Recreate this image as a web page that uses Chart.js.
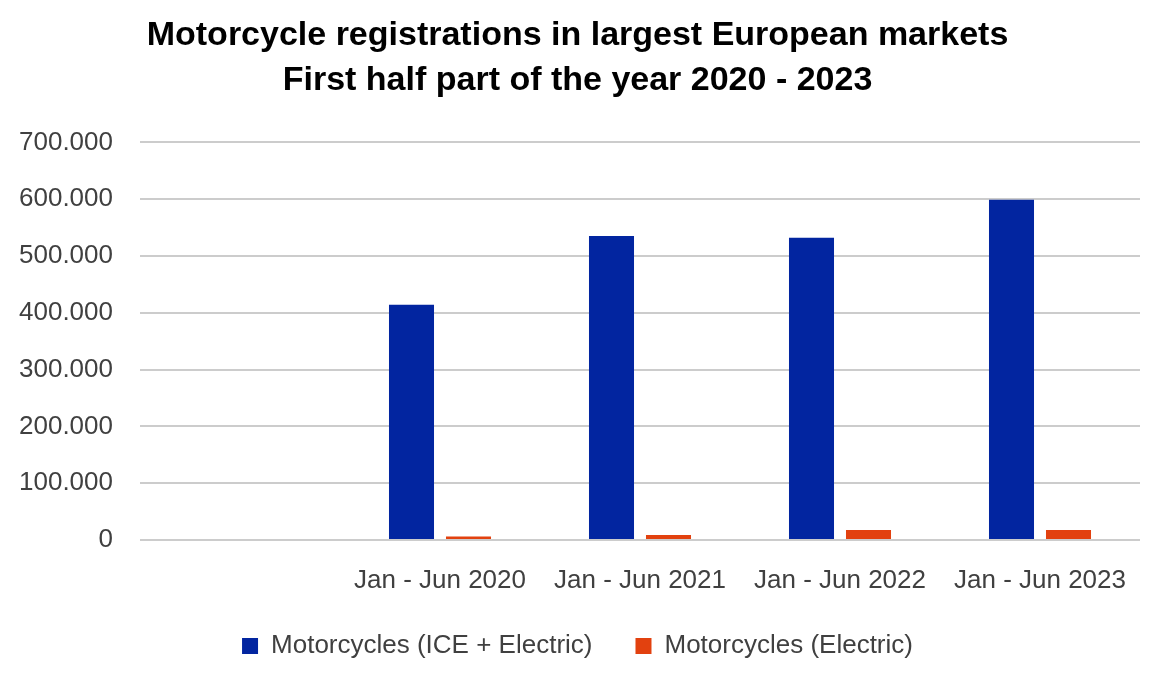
<!DOCTYPE html>
<html>
<head>
<meta charset="utf-8">
<script src="https://cdn.jsdelivr.net/npm/chart.js@4.4.0/dist/chart.umd.min.js"></script>
<style>
  html, body { margin: 0; padding: 0; background: #fff; }
  #wrap { width: 1156px; height: 675px; }
</style>
</head>
<body>
<div id="wrap"><canvas id="motoChart" width="1156" height="675"></canvas></div>
<script>
// categories (first slot is empty in the original chart)
const periods = ["", "Jan - Jun 2020", "Jan - Jun 2021", "Jan - Jun 2022", "Jan - Jun 2023"];

// series values
const totalRegs = [null, 414000, 535000, 532000, 599000];
const electricRegs = [null, 6000, 9000, 17500, 17500];

const seriesNames = ["Motorcycles (ICE + Electric)", "Motorcycles (Electric)"];
const titleLines = ["Motorcycle registrations in largest European markets", "First half part of the year 2020 - 2023"];

// y axis ticks
const yMax = 700000;
const yStep = 100000;

const FONT = "'Liberation Sans', Arial, sans-serif";

function fmtThousands(v) {
    return v.toString().replace(/\B(?=(\d{3})+(?!\d))/g, ".");
}

const ctx = document.getElementById("motoChart").getContext("2d");

new Chart(ctx, {
    type: "bar",
    data: {
        labels: periods,
        datasets: [
            {
                label: seriesNames[0],
                data: totalRegs,
                backgroundColor: "#0225a0",
                borderWidth: 0,
            },
            {
                label: seriesNames[1],
                data: electricRegs,
                backgroundColor: "#e2410f",
                borderWidth: 0,
            },
        ],
    },
    options: {
        responsive: false,
        animation: false,
        categoryPercentage: 0.57,
        barPercentage: 0.79,
        layout: {
            padding: { left: 15, right: 16, top: 8, bottom: 6 },
        },
        plugins: {
            title: {
                display: true,
                text: titleLines,
                color: "#000",
                font: { family: FONT, size: 34, weight: "bold", lineHeight: 1.3 },
                padding: { top: 6, bottom: 40 },
            },
            legend: {
                position: "bottom",
                labels: {
                    color: "#404040",
                    font: { family: FONT, size: 26 },
                    boxWidth: 16,
                    boxHeight: 16,
                    padding: 43,
                },
            },
            tooltip: { enabled: false },
        },
        scales: {
            x: {
                grid: { display: false },
                border: { display: false },
                ticks: {
                    color: "#404040",
                    font: { family: FONT, size: 26 },
                    padding: 17,
                    maxRotation: 0,
                },
                // shorter axis box so the legend sits close to the labels
                afterFit: (scale) => { scale.height = 50; },
            },
            y: {
                min: 0,
                max: yMax,
                border: { display: false },
                grid: { color: "#cccccc", lineWidth: 2, drawTicks: false },
                ticks: {
                    stepSize: yStep,
                    color: "#404040",
                    font: { family: FONT, size: 26 },
                    padding: 27,
                    callback: (v) => fmtThousands(v),
                },
                afterFit: (scale) => { scale.width = 125; },
            },
        },
    },
});
</script>
</body>
</html>
